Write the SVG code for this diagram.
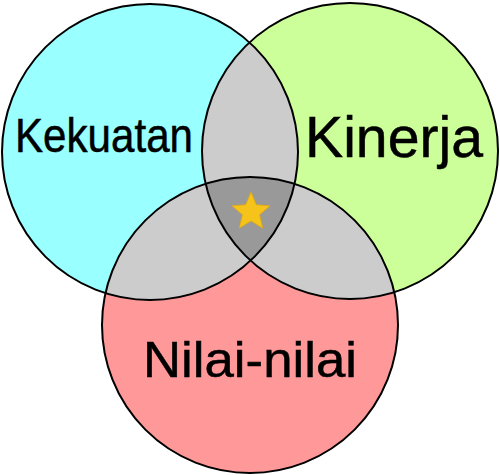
<svg xmlns="http://www.w3.org/2000/svg" width="500" height="475" viewBox="0 0 500 475">
<style>
.lbl{font-family:"Liberation Sans",Arial,sans-serif;fill:#000;stroke:#000;stroke-width:0.5}
.ring{fill:none;stroke:#000;stroke-width:2}
</style>
<defs>
<clipPath id="cL"><circle cx="150" cy="152" r="148"/></clipPath>
<clipPath id="cR"><circle cx="350" cy="151" r="148"/></clipPath>
</defs>
<rect width="500" height="475" fill="#fff"/>
<g id="kekuatan">
<circle cx="150" cy="152" r="148" fill="#99FFFF"/>
</g>
<g id="kinerja">
<circle cx="350" cy="151" r="148" fill="#CCFF99"/>
</g>
<g id="nilai">
<circle cx="250" cy="325" r="148" fill="#FF9999"/>
</g>
<g id="overlaps">
<circle cx="350" cy="151" r="148" fill="#CCCCCC" clip-path="url(#cL)"/>
<circle cx="250" cy="325" r="148" fill="#CCCCCC" clip-path="url(#cL)"/>
<circle cx="250" cy="325" r="148" fill="#CCCCCC" clip-path="url(#cR)"/>
<g clip-path="url(#cL)"><circle cx="250" cy="325" r="148" fill="#999999" clip-path="url(#cR)"/></g>
</g>
<g id="outlines">
<circle class="ring" cx="150" cy="152" r="148"/>
<circle class="ring" cx="350" cy="151" r="148"/>
<circle class="ring" cx="250" cy="325" r="148"/>
</g>
<g id="star">
<polygon points="251,192 256.29,204.72 270.02,205.82 259.56,214.78 262.76,228.18 251,221 239.24,228.18 242.44,214.78 231.98,205.82 245.71,204.72" fill="#F5C31A" stroke="#E0A810" stroke-width="0.8"/>
</g>
<g id="labels">
<text class="lbl" x="15" y="152" font-size="47.5" textLength="178" lengthAdjust="spacingAndGlyphs">Kekuatan</text>
<text class="lbl" x="305" y="157" font-size="58" textLength="178" lengthAdjust="spacingAndGlyphs">Kinerja</text>
<text class="lbl" x="143" y="377" font-size="50" textLength="214" lengthAdjust="spacingAndGlyphs">Nilai-nilai</text>
</g>
</svg>
